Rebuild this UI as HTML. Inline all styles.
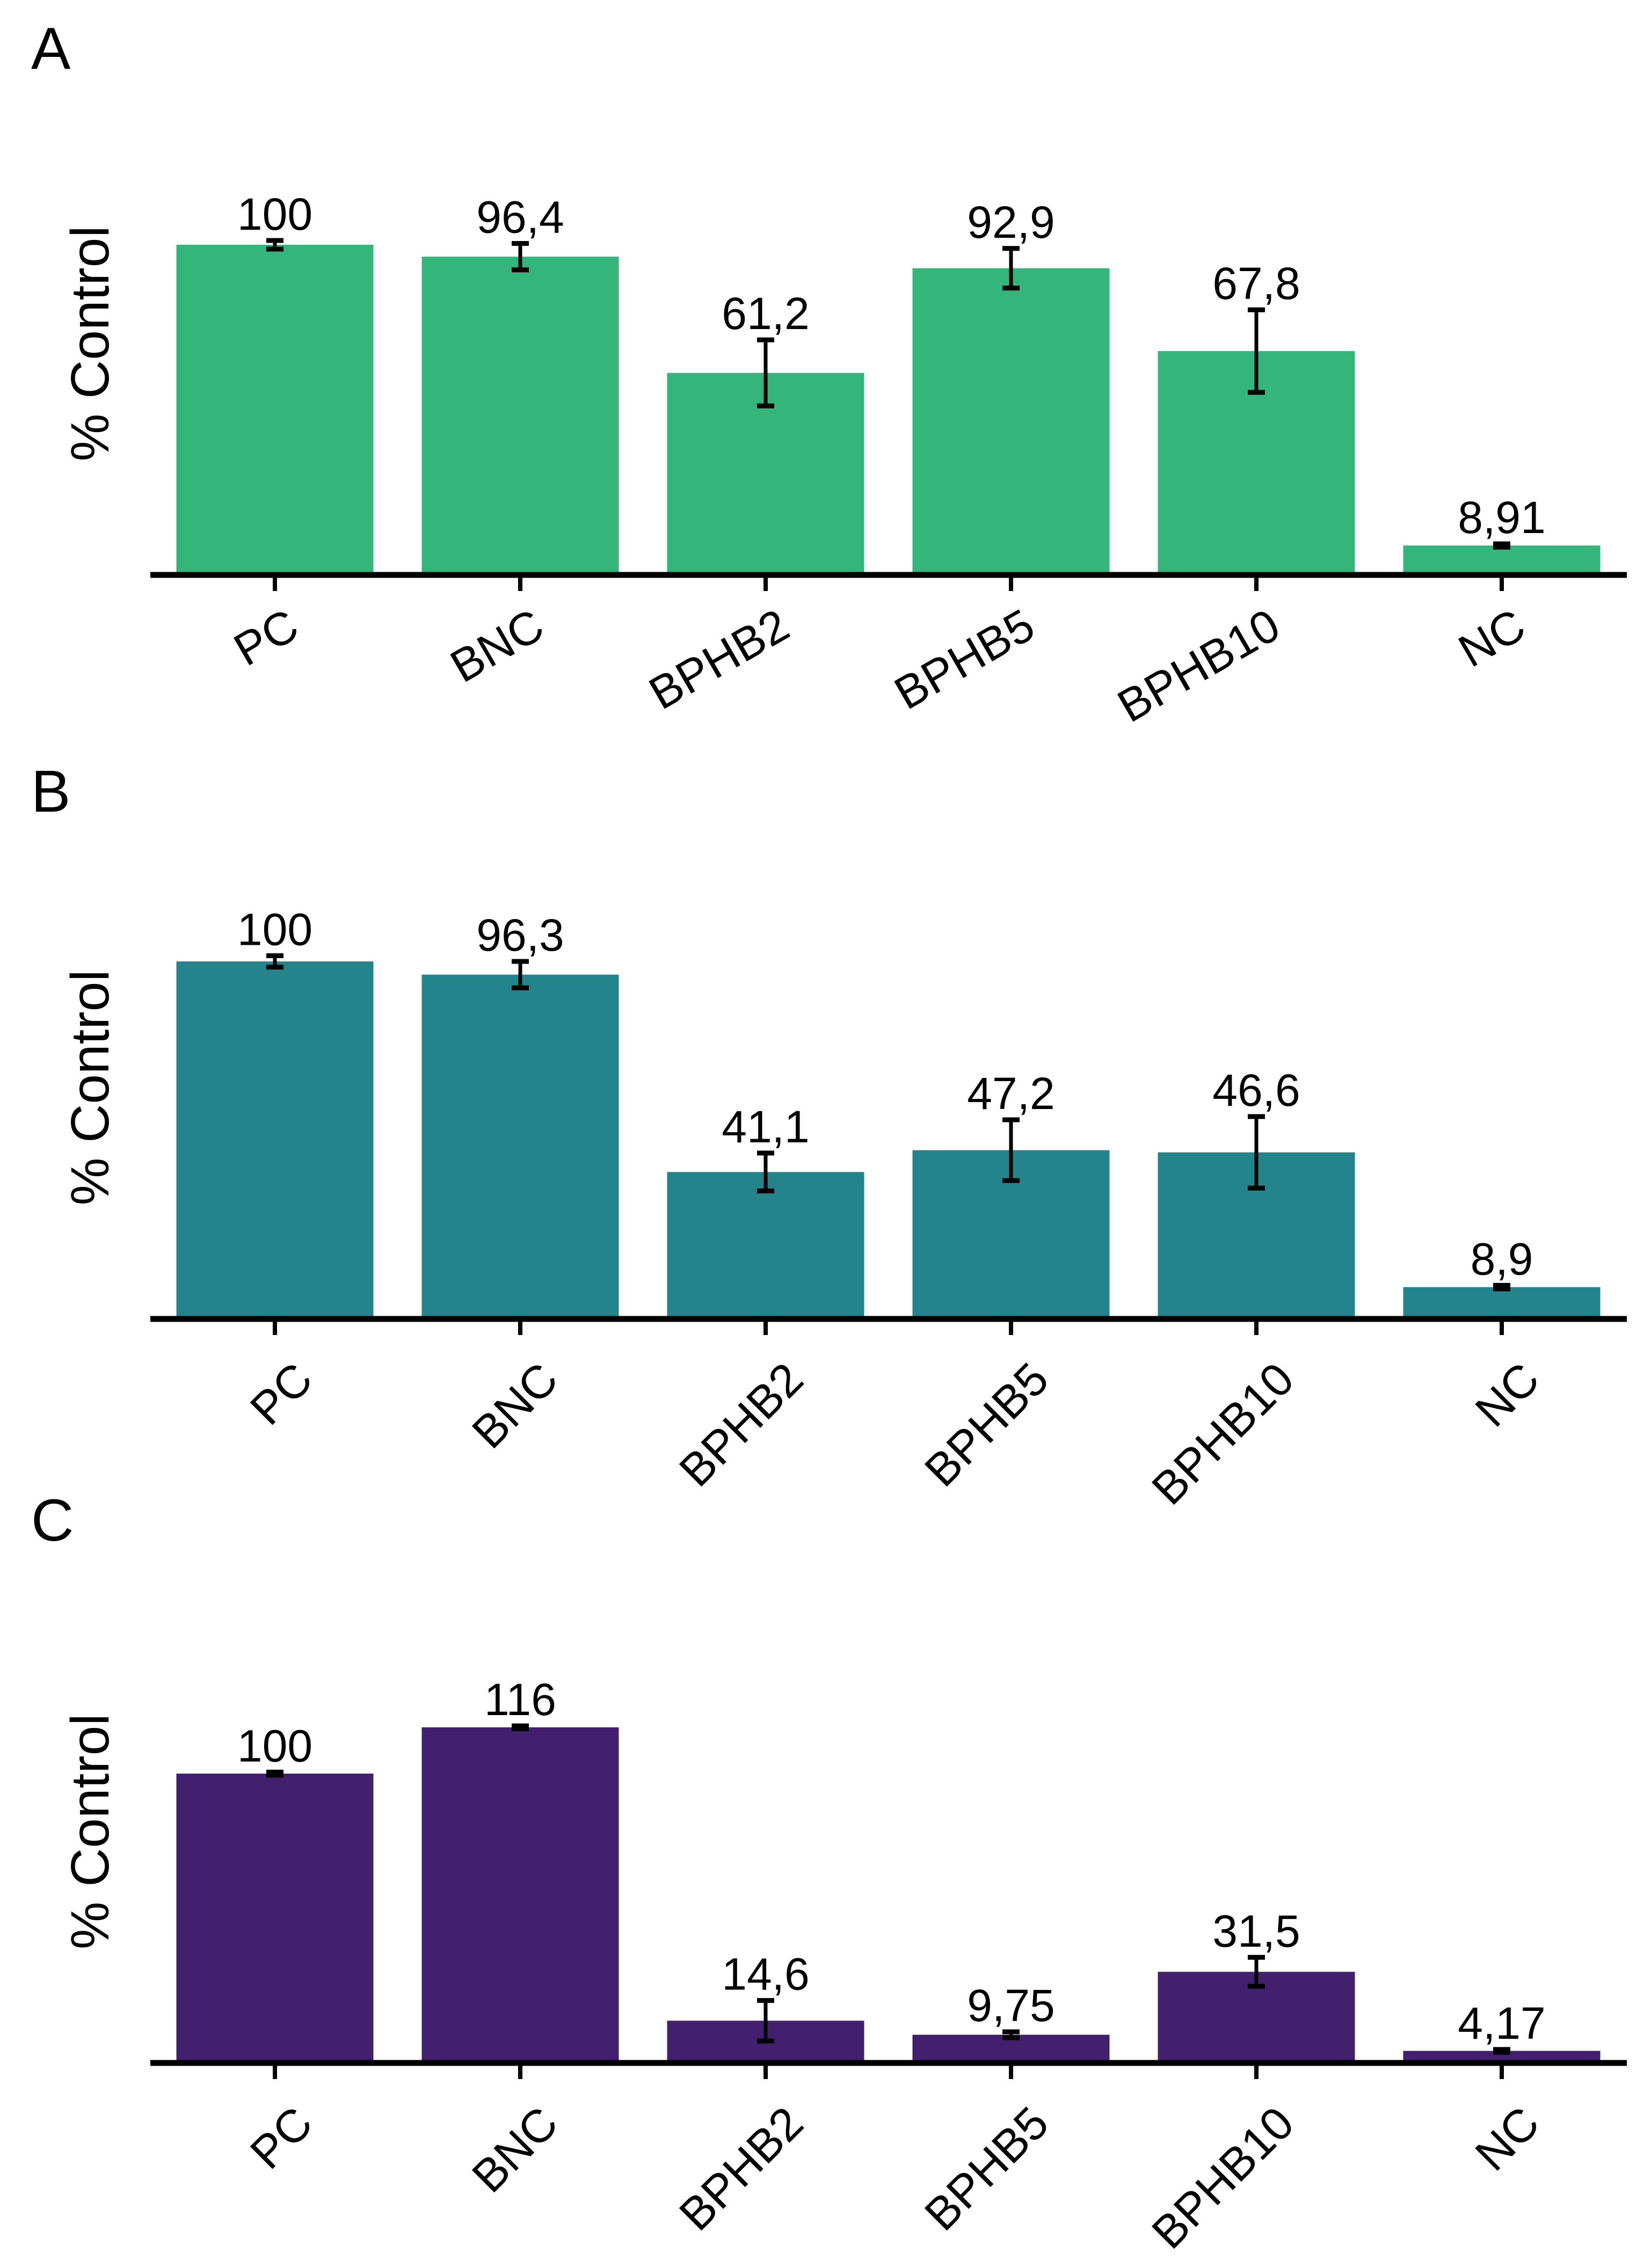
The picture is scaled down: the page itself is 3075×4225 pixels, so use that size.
<!DOCTYPE html>
<html><head><meta charset="utf-8"><style>
html,body{margin:0;padding:0;background:#fff;}
svg{display:block;font-family:"Liberation Sans",Arial,sans-serif;}
</style></head><body>
<svg id="fig" width="3075" height="4225" viewBox="0 0 3075 4225" xmlns="http://www.w3.org/2000/svg">
<rect width="3075" height="4225" fill="#fff"/>
</svg>
<script>
const categories = ["PC","BNC","BPHB2","BPHB5","BPHB10","NC"];
const valuesA = [100, 96.4, 61.2, 92.9, 67.8, 8.91];
const errorsA = [1.3, 4, 10, 6, 12.5, 0.5];
const labelsA = ["100","96,4","61,2","92,9","67,8","8,91"];
const valuesB = [100, 96.3, 41.1, 47.2, 46.6, 8.9];
const errorsB = [1.6, 3.7, 5.3, 8.5, 10, 0.5];
const labelsB = ["100","96,3","41,1","47,2","46,6","8,9"];
const valuesC = [100, 116, 14.6, 9.75, 31.5, 4.17];
const errorsC = [0.5, 0.5, 7, 1, 5, 0.5];
const labelsC = ["100","116","14,6","9,75","31,5","4,17"];

const NS = "http://www.w3.org/2000/svg";
const svg = document.getElementById("fig");
function mk(tag, attrs, parent){
  const e = document.createElementNS(NS, tag);
  for (const k in attrs) e.setAttribute(k, attrs[k]);
  (parent||svg).appendChild(e);
  return e;
}
const x0 = 512, step = 457, barW = 367;
function xScale(i){ return x0 + i*step; }

function panel(key, letter, letterY, axisY, pxPerUnit, color, vals, errs, labs, rot, lblDx, lblDy, titleY){
  const g = mk("g", {});
  
  
  const yScale = v => axisY - v*pxPerUnit;
  const L = mk("text", {x:58, y:letterY, "font-size":110, fill:"#000"}, g);
  L.textContent = letter;
  
  
  const T = mk("text", {x:0, y:0, "font-size":100, fill:"#000", "text-anchor":"middle",
    transform:"translate(202," + titleY + ") rotate(-90)"}, g);
  T.textContent = "% Control";
  
  
  vals.forEach((v,i)=>{
    const cx = xScale(i);
    const b = mk("rect", {x:cx-barW/2, y:yScale(v), width:barW, height:axisY-yScale(v), fill:color}, g);
    
    
    const top = yScale(v+errs[i]), bot = yScale(v-errs[i]);
    const eg = mk("g", {stroke:"#000", "stroke-width":7}, g);
    
    
    mk("line", {x1:cx, x2:cx, y1:top, y2:bot}, eg);
    mk("line", {x1:cx-16, x2:cx+16, y1:top, y2:top, "stroke-width":9}, eg);
    mk("line", {x1:cx-16, x2:cx+16, y1:bot, y2:bot, "stroke-width":9}, eg);
    const t = mk("text", {x:cx, y:top-20, "font-size":84, fill:"#000", "text-anchor":"middle"}, g);
    t.textContent = labs[i];
    
    
    const tk = mk("line", {x1:cx, x2:cx, y1:axisY, y2:axisY+30, stroke:"#000", "stroke-width":8}, g);
    
    
    const lx = cx+lblDx, ly = axisY+lblDy;
    const xl = mk("text", {x:0, y:0, "font-size":86, fill:"#000", "text-anchor":"end",
      transform:"translate(" + lx + "," + ly + ") rotate(" + (-rot) + ")"}, g);
    xl.textContent = categories[i];
    
    
  });
  const ax = mk("line", {x1:280, x2:3030, y1:axisY, y2:axisY, stroke:"#000", "stroke-width":11}, g);
  
  
}
panel("a","A",128,1071,6.15,"#34b57b",valuesA,errorsA,labelsA,30,50,112,640);
panel("b","B",1512,2457,6.66,"#24848c",valuesB,errorsB,labelsB,45,75,118,2026);
panel("c","C",2870,3843,5.39,"#43206e",valuesC,errorsC,labelsC,45,75,118,3412);
</script>
</body></html>
